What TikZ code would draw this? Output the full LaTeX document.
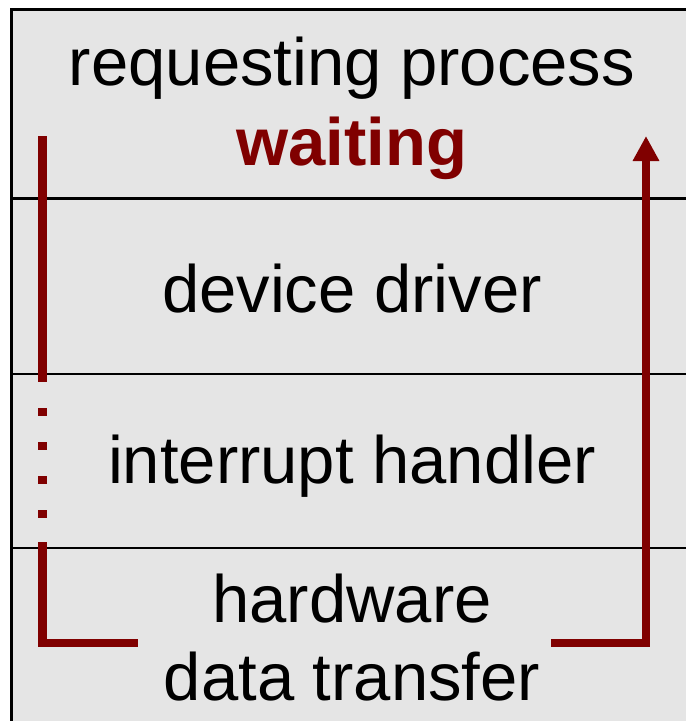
\documentclass[tikz,border=0pt]{standalone}
\usepackage{fontspec}
\setmainfont{Liberation Sans}
\usetikzlibrary{arrows.meta}

\definecolor{layergray}{RGB}{229,229,229}
\definecolor{waitred}{RGB}{128,0,0}

\tikzset{
  layer/.style={draw=black, line width=2.5pt, fill=layergray},
  layertext/.style={anchor=base, inner sep=0pt, font=\fontsize{67}{78}\selectfont},
  flow/.style={draw=waitred, line width=8.5pt},
  flowdots/.style={flow, dash pattern=on 0pt off 26pt on 8pt off 0pt}
}

\begin{document}
\begin{tikzpicture}[x=1pt, y=-1pt]
  \useasboundingbox (0,0) rectangle (686,721);
  \fill[white] (0,0) rectangle (686,721);

  \begin{scope}
    \clip (0,0) rectangle (686,721);
    % the four layers
    \draw[layer] (11.5,9.5) rectangle (693,198.5);
    \draw[layer] (11.5,198.5) rectangle (693,374);
    \draw[layer] (11.5,374) rectangle (693,548);
    \draw[layer] (11.5,548) rectangle (693,760);
  \end{scope}

  % labels
  \node[layertext] (proc) at (352,85) {requesting process};
  \node[layertext, text=waitred, font=\fontsize{67}{78}\selectfont\bfseries] (wait) at (352,165) {waiting};
  \node[layertext] (driver) at (352,312) {device driver};
  \node[layertext] (handler) at (352,483) {interrupt handler};
  \node[layertext] (hw) at (352,622) {hardware};
  \node[layertext] (xfer) at (352,700) {data transfer};

  % path of the request
  \coordinate (ltop) at (42.5,136);
  \coordinate (lbreak) at (42.5,382);
  \coordinate (lresume) at (42.5,542);
  \coordinate (lcorner) at (42.5,643);
  \coordinate (lend) at (138,643);
  \coordinate (rstart) at (551,643);
  \coordinate (rcorner) at (646,643);
  \coordinate (rtip) at (646,136);

  \draw[flow] (ltop) -- (lbreak);
  \draw[flowdots] (lbreak) -- (lresume);
  \draw[flow] (lresume) -- (lcorner) -- (lend);
  \draw[flow, -{Triangle[width=25pt,length=25pt]}] (rstart) -- (rcorner) -- (rtip);
\end{tikzpicture}
\end{document}
